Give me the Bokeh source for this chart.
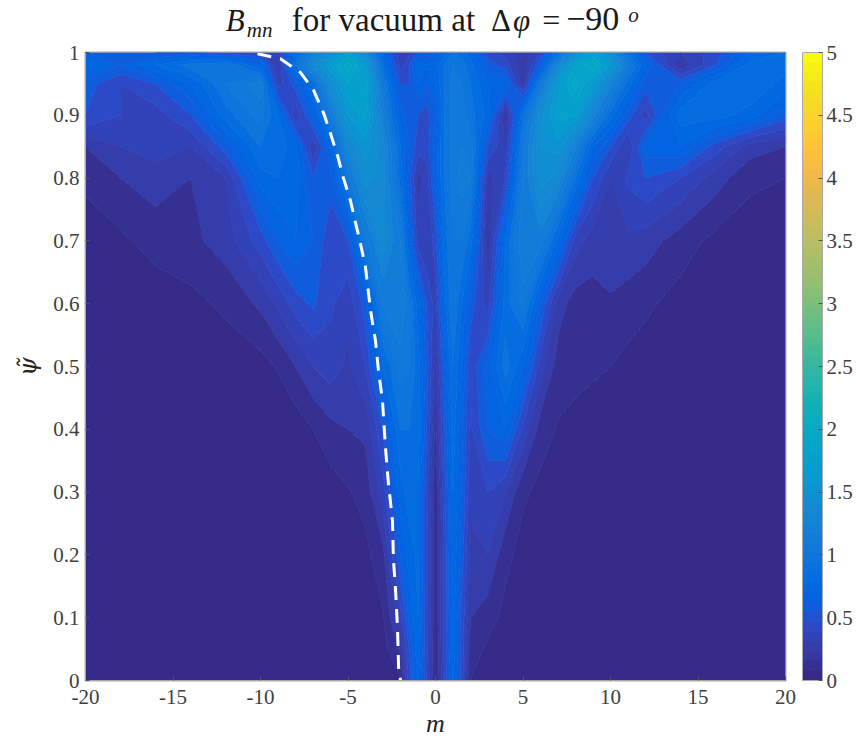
from bokeh.embed import file_html
from bokeh.resources import INLINE
from bokeh.plotting import figure
from bokeh.layouts import column
from bokeh.core.properties import value
from bokeh.models import Range1d, FixedTicker, ColorBar, LinearColorMapper

m_values = [-20,-18,-16,-14,-12,-10,-9,-8,-7,-6,-5,-4,-3,-2,-1.5,-1,-.5,0,.5,1,1.5,2,3,4,5,6,7,8,9,10,11,12,14,16,18,20]
psi_values = [0,.05,.1,.2,.3,.4,.5,.6,.7,.8,.85,.9,.95,.98,1]

b_000 = [.02,.02,.02,.02,.02,.02,.02,.02,.02,.02,.02,.02,.03,.09,.45,.72,.40,.12,.40,.72,.45,.10,.03,.02,.02,.02,.02,.02,.02,.02,.02,.02,.02,.02,.02,.02]
b_005 = [.02,.02,.02,.02,.02,.02,.02,.02,.02,.02,.02,.03,.06,.22,.50,.78,.42,.10,.42,.75,.45,.15,.08,.03,.02,.02,.02,.02,.02,.02,.02,.02,.02,.02,.02,.02]
b_010 = [.02,.02,.02,.02,.02,.02,.02,.02,.02,.02,.02,.04,.09,.36,.62,.80,.42,.12,.42,.75,.47,.20,.14,.07,.03,.02,.02,.02,.02,.02,.02,.02,.02,.02,.02,.02]
b_020 = [.02,.02,.02,.02,.02,.02,.02,.02,.02,.02,.04,.07,.17,.60,.75,.82,.42,.12,.42,.78,.55,.28,.30,.13,.06,.03,.02,.02,.02,.02,.02,.02,.02,.02,.02,.02]
b_030 = [.02,.02,.02,.02,.02,.02,.02,.02,.02,.05,.09,.14,.35,.75,.85,.82,.42,.13,.45,.80,.60,.32,.40,.30,.12,.07,.04,.02,.02,.02,.02,.02,.02,.02,.02,.02]
b_040 = [.02,.02,.02,.02,.02,.02,.02,.04,.10,.17,.20,.22,.50,.90,.90,.85,.50,.18,.50,.85,.62,.38,.60,.70,.38,.15,.09,.06,.04,.02,.02,.02,.02,.02,.02,.02]
b_050 = [.02,.02,.02,.03,.04,.06,.11,.20,.30,.35,.28,.40,.80,1.05,1.00,.85,.55,.25,.60,.90,.70,.42,.65,.95,.70,.35,.15,.14,.12,.10,.07,.05,.03,.02,.02,.02]
b_060 = [.03,.03,.04,.07,.12,.22,.32,.45,.52,.42,.33,.55,1.10,1.20,1.00,.75,.50,.35,.75,1.00,.80,.55,.35,.85,1.05,.60,.25,.15,.16,.18,.15,.12,.06,.03,.02,.02]
b_070 = [.05,.08,.14,.17,.25,.45,.60,.70,.60,.42,.50,1.05,1.35,1.10,.70,.35,.30,.45,.85,1.00,1.00,.85,.20,.80,1.20,1.15,.75,.35,.25,.30,.28,.25,.15,.07,.05,.04]
b_080 = [.12,.20,.25,.20,.30,.75,.80,.75,.50,.55,1.05,1.45,1.35,.85,.55,.25,.35,.65,.90,1.05,1.15,1.10,.25,.40,1.10,1.45,1.35,.90,.50,.30,.42,.50,.40,.25,.12,.10]
b_085 = [.20,.30,.35,.30,.55,.90,.85,.75,.30,.70,1.30,1.55,1.35,.80,.60,.45,.45,.65,.90,1.05,1.10,1.05,.50,.30,1.05,1.50,1.55,1.20,.70,.50,.30,.65,.70,.45,.25,.20]
b_090 = [.50,.40,.35,.50,.85,1.05,.80,.30,.65,1.10,1.60,1.75,1.15,.65,.55,.50,.45,.60,.90,1.05,1.05,.95,.75,.18,.90,1.45,1.75,1.70,1.25,.85,.55,.35,.85,.85,.75,.55]
b_095 = [.55,.40,.50,.70,1.00,1.15,.35,.55,.85,1.40,1.80,1.80,1.05,.50,.50,.70,.60,.70,.90,1.05,1.00,.90,.70,.70,.25,1.05,1.65,1.95,1.65,1.25,.85,.55,.60,.85,.90,.75]
b_098 = [.75,.60,.80,.95,1.00,.70,.28,.90,1.35,1.70,1.95,1.65,.85,.35,.50,.75,.70,.75,.90,1.00,.95,.85,.55,.45,.20,.60,1.30,1.80,2.00,1.60,1.10,.70,.20,.50,.85,.85]
b_100 = [.60,.55,.50,.50,.45,.40,.35,.80,1.20,1.40,1.70,1.30,.70,.30,.35,.55,.50,.60,.75,.90,.85,.70,.45,.35,.25,.40,.90,1.40,1.70,1.40,.90,.50,.30,.45,.70,.80]
b_rows = [b_000,b_005,b_010,b_020,b_030,b_040,b_050,b_060,b_070,b_080,b_085,b_090,b_095,b_098,b_100]

resonance_m = [-10.17,-8.86,-7.71,-6.97,-6.4,-6.0,-5.6,-5.26,-4.86,-4.57,-4.29,-4.0,-3.71,-3.43,-3.26,-3.03,-2.86,-2.69,-2.46,-2.4,-2.29,-2.17,-2.11,-2.0]
resonance_psi = [.998,.99,.968,.94,.904,.871,.836,.80,.764,.729,.696,.658,.589,.541,.494,.446,.371,.314,.255,.191,.148,.084,.021,0]

parula_rgb = [
(.2081,.1663,.5292),(.2116,.1898,.5777),(.2123,.2138,.6270),(.2081,.2386,.6771),(.1959,.2645,.7279),(.1707,.2919,.7792),
(.1253,.3242,.8303),(.0591,.3598,.8683),(.0117,.3875,.8820),(.0060,.4086,.8828),(.0165,.4266,.8786),(.0329,.4430,.8720),
(.0498,.4586,.8641),(.0629,.4737,.8554),(.0723,.4887,.8467),(.0779,.5040,.8384),(.0793,.5200,.8312),(.0749,.5375,.8263),
(.0641,.5570,.8240),(.0488,.5772,.8228),(.0343,.5966,.8199),(.0265,.6137,.8135),(.0239,.6287,.8038),(.0231,.6418,.7913),
(.0228,.6535,.7768),(.0267,.6642,.7607),(.0384,.6743,.7436),(.0590,.6838,.7254),(.0843,.6928,.7062),(.1133,.7015,.6859),
(.1453,.7098,.6646),(.1801,.7177,.6424),(.2178,.7250,.6193),(.2586,.7317,.5954),(.3022,.7376,.5712),(.3482,.7424,.5473),
(.3953,.7459,.5244),(.4420,.7481,.5033),(.4871,.7491,.4840),(.5300,.7491,.4661),(.5709,.7485,.4494),(.6099,.7473,.4337),
(.6473,.7456,.4188),(.6834,.7435,.4044),(.7184,.7411,.3905),(.7525,.7384,.3768),(.7858,.7356,.3633),(.8185,.7327,.3498),
(.8507,.7299,.3360),(.8824,.7274,.3217),(.9139,.7258,.3063),(.9450,.7261,.2886),(.9739,.7314,.2666),(.9938,.7455,.2403),
(.9990,.7653,.2164),(.9955,.7861,.1967),(.9880,.8066,.1794),(.9789,.8271,.1633),(.9697,.8481,.1475),(.9626,.8705,.1309),
(.9589,.8949,.1132),(.9598,.9218,.0948),(.9661,.9514,.0755),(.9763,.9831,.0538)]
palette = ["#%02x%02x%02x" % (round(r*255), round(g*255), round(b*255)) for r, g, b in parula_rgb]

x_ticks = [-20,-15,-10,-5,0,5,10,15,20]
y_ticks = [0,.1,.2,.3,.4,.5,.6,.7,.8,.9,1]
cb_ticks = [0,.5,1,1.5,2,2.5,3,3.5,4,4.5,5]
levels = [i/10 for i in range(51)]
fills = [palette[int((i+0.5)/50*64)] for i in range(50)]
edges = [palette[min(int(i/50*64), 63)] for i in range(51)]

SERIF = "Liberation Serif"
TICK = "#404040"
HEAD_H = 41

head = figure(width=856, height=HEAD_H, output_backend="svg", toolbar_location=None,
              x_range=Range1d(85, 785), y_range=Range1d(HEAD_H, 0),
              min_border=0, outline_line_color=None)
head.axis.visible = False
head.grid.visible = False

def piece(text, px, baseline, size, style="normal"):
    head.text([px], [baseline - 0.36*size], text=[text], text_font=value(SERIF), text_font_size=f"{size}px",
              text_font_style=style, text_color="#1a1a1a", text_baseline="alphabetic", text_align="left")

piece("B", 225, 31, 31, "italic")
piece("mn", 246, 37, 21, "italic")
piece("for vacuum at", 291, 31, 33)
piece("\u0394", 490, 31, 31)
piece("\u03c6", 512, 31, 31, "italic")
piece("=", 541, 31, 32)
piece("\u221290", 565, 31, 34)
piece("o", 627, 22, 21, "italic")

p = figure(frame_width=700, frame_height=628, width=856, height=738-HEAD_H, output_backend="svg", toolbar_location=None,
           x_range=Range1d(-20, 20), y_range=Range1d(0, 1),
           min_border_left=85, min_border_top=52-HEAD_H, min_border_bottom=58, min_border_right=0,
           outline_line_color="#a8a8a8", outline_line_width=2)
p.grid.visible = False
p.contour(m_values, psi_values, b_rows, levels, fill_color=fills, line_color=edges, line_width=1)
p.line(resonance_m, resonance_psi, line_color="white", line_width=3, line_dash="14 9")

for ax, ticks in ((p.xaxis[0], x_ticks), (p.yaxis[0], y_ticks)):
    ax.ticker = FixedTicker(ticks=ticks)
    ax.major_label_overrides = {t: ("%g" % t) for t in ticks}
    ax.major_tick_in, ax.major_tick_out = 4, 0
    ax.minor_tick_line_color = None
    ax.axis_line_color = "#a8a8a8"
    ax.major_tick_line_color = "#555555"
    ax.major_label_text_font = SERIF
    ax.major_label_text_font_size = "21px"
    ax.major_label_text_color = TICK
    ax.axis_label_text_font = SERIF
    ax.axis_label_text_font_style = "italic"
    ax.axis_label_text_font_size = "26px"
    ax.axis_label_text_color = "#222222"
p.xaxis[0].axis_label = "m"
p.yaxis[0].axis_label = "\u03c8\u0303"
p.yaxis[0].axis_label_text_font = "DejaVu Serif"
p.yaxis[0].axis_label_text_font_size = "24px"
p.xaxis[0].major_label_standoff = 9
p.yaxis[0].major_label_standoff = 6
p.xaxis[0].axis_label_standoff = 2
p.yaxis[0].axis_label_standoff = 8

mapper = LinearColorMapper(palette=palette, low=0, high=5)
cb = ColorBar(color_mapper=mapper, width=20, height=628, margin=0, padding=0,
              ticker=FixedTicker(ticks=cb_ticks),
              major_label_overrides={t: ("%g" % t) for t in cb_ticks},
              major_label_text_font=SERIF, major_label_text_font_size="21px", major_label_text_color=TICK,
              major_tick_in=4, major_tick_line_color="#555555", minor_tick_line_color=None,
              bar_line_color="#a8a8a8", bar_line_width=1, label_standoff=4, location=(17, 0))
p.add_layout(cb, "right")

open("out.html", "w").write(file_html(column(head, p, spacing=0), INLINE))
